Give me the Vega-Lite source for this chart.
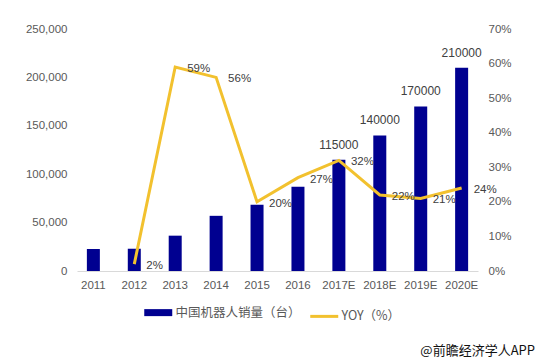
{
  "$schema": "https://vega.github.io/schema/vega-lite/v6.json",
  "width": 401,
  "height": 242,
  "autosize": {"type": "none"},
  "padding": {"left": 77, "top": 29, "right": 60, "bottom": 91},
  "background": "white",
  "config": {
    "font": "Liberation Sans",
    "view": {"stroke": null},
    "axis": {"grid": false, "ticks": false, "labelFont": "Liberation Sans", "labelFontSize": 11.5, "labelColor": "#595959"},
    "title": {"font": "Noto Sans CJK SC"}
  },
  "title": {
    "text": "@前瞻经济学人APP",
    "orient": "bottom",
    "anchor": "end",
    "frame": "group",
    "fontSize": 13,
    "fontWeight": "normal",
    "color": "#111111",
    "dx": 57,
    "offset": 18
  },
  "data": {
    "values": [
      {"year": "2011", "sales": 22700, "yoy": null},
      {"year": "2012", "sales": 23000, "yoy": 0.02},
      {"year": "2013", "sales": 36500, "yoy": 0.59},
      {"year": "2014", "sales": 57000, "yoy": 0.56},
      {"year": "2015", "sales": 68500, "yoy": 0.20},
      {"year": "2016", "sales": 87000, "yoy": 0.27},
      {"year": "2017E", "sales": 115000, "yoy": 0.32},
      {"year": "2018E", "sales": 140000, "yoy": 0.22},
      {"year": "2019E", "sales": 170000, "yoy": 0.21},
      {"year": "2020E", "sales": 210000, "yoy": 0.24}
    ]
  },
  "encoding": {
    "x": {
      "field": "year", "type": "ordinal", "sort": null,
      "scale": {"paddingInner": 0.6, "paddingOuter": 0.2},
      "axis": {"title": null, "labelAngle": 0, "domainColor": "#D9D9D9", "labelPadding": 8}
    }
  },
  "layer": [
    {
      "encoding": {
        "y": {
          "field": "sales", "type": "quantitative",
          "scale": {"domain": [0, 250000], "nice": false},
          "axis": {"title": null, "values": [0, 50000, 100000, 150000, 200000, 250000], "labelExpr": "format(datum.value, ',')", "domain": false, "labelPadding": 10}
        }
      },
      "layer": [
        {
          "mark": {"type": "bar", "size": 13},
          "encoding": {
            "color": {
              "datum": "中国机器人销量（台）",
              "type": "nominal",
              "scale": {"domain": ["中国机器人销量（台）", "YOY（%）"], "range": ["#000090", "#F2C12E"]},
              "legend": {
                "title": null,
                "orient": "none",
                "legendX": 75,
                "legendY": 277,
                "direction": "horizontal",
                "symbolType": "stroke",
                "symbolSize": 784,
                "symbolStrokeWidth": 7,
                "labelFont": "Noto Sans CJK SC",
                "labelFontSize": 12.5,
                "labelColor": "#595959",
                "labelOffset": 11,
                "columnPadding": 3,
                "encode": {
                  "symbols": {"update": {"strokeWidth": {"signal": "datum.value === 'YOY（%）' ? 3 : 7"}}}
                }
              }
            }
          }
        },
        {
          "transform": [{"filter": "indexof(datum.year, 'E') > 0"}],
          "mark": {"type": "text", "dy": -8, "fontSize": 12, "color": "#404040", "baseline": "bottom"},
          "encoding": {
            "y": {"field": "sales", "type": "quantitative"},
            "text": {"field": "sales", "type": "quantitative", "format": "d"}
          }
        }
      ]
    },
    {
      "transform": [{"filter": "datum.yoy != null"}],
      "encoding": {
        "y": {
          "field": "yoy", "type": "quantitative",
          "scale": {"domain": [0, 0.7], "nice": false},
          "axis": {"title": null, "orient": "right", "values": [0, 0.1, 0.2, 0.3, 0.4, 0.5, 0.6, 0.7], "format": ".0%", "domain": false, "labelPadding": 10}
        }
      },
      "layer": [
        {
          "mark": {"type": "line", "strokeWidth": 3},
          "encoding": {
            "color": {"datum": "YOY（%）", "type": "nominal"}
          }
        },
        {
          "mark": {"type": "text", "align": "left", "dx": 12, "dy": 2, "fontSize": 11.5, "color": "#404040"},
          "encoding": {
            "text": {"field": "yoy", "type": "quantitative", "format": ".0%"}
          }
        }
      ]
    }
  ],
  "resolve": {"scale": {"y": "independent"}}
}
